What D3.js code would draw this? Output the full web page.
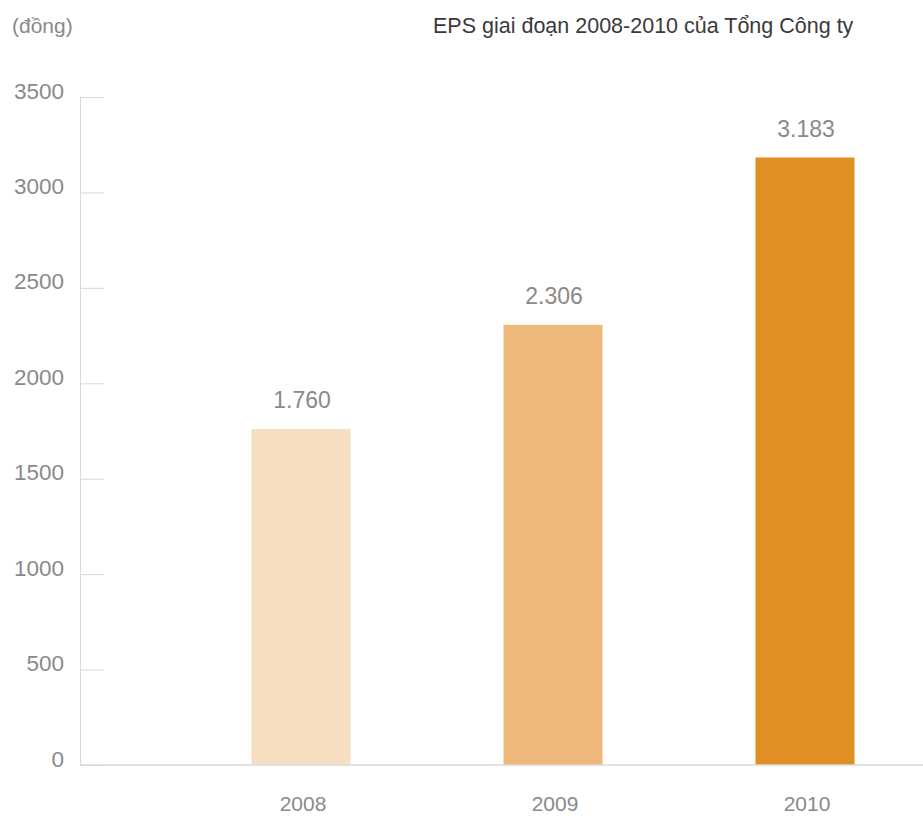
<!DOCTYPE html>
<html>
<head>
<meta charset="utf-8">
<script src="https://cdn.jsdelivr.net/npm/d3@7"></script>
<style>
  html, body { margin: 0; padding: 0; background: #fff; }
  svg { display: block; font-family: "Liberation Sans", Arial, sans-serif; }
</style>
</head>
<body>
<svg id="chart" width="923" height="816"></svg>
<script>
const years = ["2008", "2009", "2010"];
const eps = [1760, 2306, 3183];
const valueLabels = ["1.760", "2.306", "3.183"];
const barColors = ["#F7DEC0", "#EDB87A", "#E08F25"];
const yTicks = [0, 500, 1000, 1500, 2000, 2500, 3000, 3500];
const titleText = "EPS giai đoạn 2008-2010 của Tổng Công ty";
const unitText = "(đồng)";

const svg = d3.select("#chart");
const axisX0 = 80, plotRight = 923;

const y = d3.scaleLinear().domain([0, 3500]).range([765, 97]);
const x = d3.scaleBand().domain(years).range([175, 931])
  .paddingInner(0.607).paddingOuter(0.3035);

// Y axis
const yAxis = svg.append("g")
  .attr("transform", `translate(${axisX0},0)`)
  .call(d3.axisLeft(y).tickValues(yTicks).tickSizeInner(-24).tickSizeOuter(0).tickPadding(16).tickFormat(d3.format("d")));
yAxis.select(".domain").attr("stroke", "#d9d9d9");
yAxis.selectAll(".tick line").attr("stroke", "#d9d9d9");
yAxis.selectAll(".tick text")
  .attr("fill", "#8a8a8a").attr("font-size", 22.5).attr("dy", "0.05em")
  .attr("font-family", "'Liberation Sans', Arial, sans-serif");

// Bars
svg.append("g").selectAll("rect").data(years).join("rect")
  .attr("x", d => x(d))
  .attr("width", x.bandwidth())
  .attr("y", (d, i) => y(eps[i]))
  .attr("height", (d, i) => y(0) - y(eps[i]))
  .attr("fill", (d, i) => barColors[i]);

// X baseline
svg.append("line")
  .attr("x1", axisX0).attr("x2", plotRight)
  .attr("y1", y(0)).attr("y2", y(0))
  .attr("stroke", "#d9d9d9").attr("stroke-width", 1.5);

// X axis labels
const xAxis = svg.append("g")
  .attr("transform", `translate(2,${y(0)})`)
  .call(d3.axisBottom(x).tickSize(0).tickPadding(31));
xAxis.select(".domain").remove();
xAxis.selectAll(".tick text")
  .attr("fill", "#8a8a8a").attr("font-size", 21)
  .attr("font-family", "'Liberation Sans', Arial, sans-serif");

// Value labels
svg.append("g").selectAll("text").data(years).join("text")
  .attr("x", d => x(d) + x.bandwidth() / 2 + 1)
  .attr("y", (d, i) => y(eps[i]) - 21)
  .attr("text-anchor", "middle")
  .attr("fill", "#8a8a8a").attr("font-size", 23)
  .text((d, i) => valueLabels[i]);

// Title & unit
svg.append("text").attr("x", 433).attr("y", 33)
  .attr("fill", "#3a3a3a").attr("font-size", 21.5)
  .text(titleText);
svg.append("text").attr("x", 12).attr("y", 33)
  .attr("fill", "#8a8a8a").attr("font-size", 21)
  .text(unitText);
</script>
</body>
</html>
